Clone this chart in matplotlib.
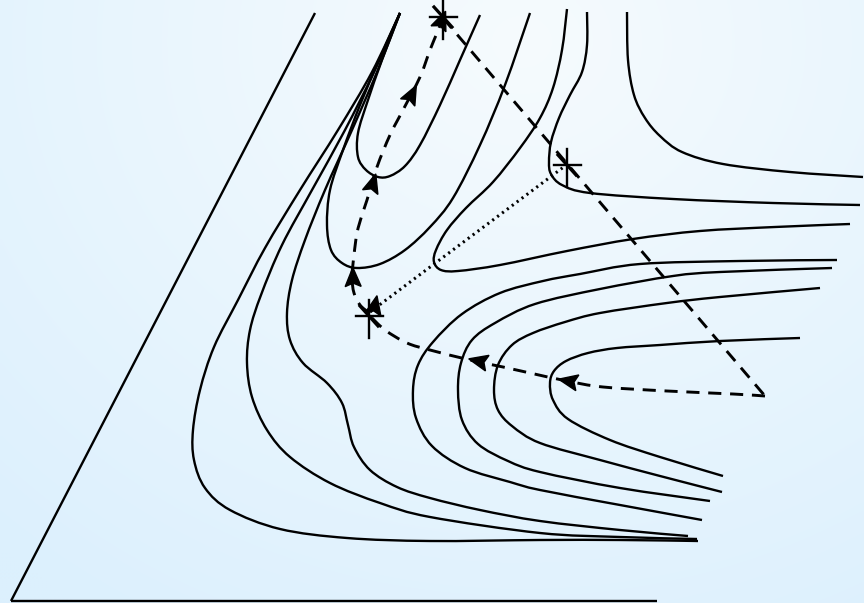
import numpy as np
import matplotlib
matplotlib.use("Agg")
import matplotlib.pyplot as plt
from matplotlib.path import Path
from matplotlib.patches import PathPatch, Polygon

# ---- diagram geometry (pixel-like units, y grows downward) ----
triangle_left = [(11, 601), (315, 13)]
triangle_bottom = [(11, 601), (657, 601)]

curve_A = [(400, 13), (372, 72), (338, 130), (300, 190), (265, 248), (238, 300), (214, 347),
           (200, 390), (193, 430), (194, 460), (205, 488), (230, 510), (280, 529), (347, 538),
           (430, 541), (540, 540), (620, 540), (698, 541)]
curve_B = [(400, 13), (374, 72), (345, 130), (312, 190), (282, 245), (261, 295), (250, 330),
           (247, 363), (252, 397), (267, 430), (290, 457), (330, 483), (380, 503), (430, 517),
           (540, 533), (620, 537), (697, 539)]
curve_C = [(400, 13), (377, 72), (352, 130), (325, 190), (305, 240), (292, 280), (287, 313),
           (290, 340), (303, 363), (327, 383), (342, 403), (348, 425), (354, 447), (370, 470),
           (397, 487), (430, 498), (480, 510), (540, 521), (620, 530), (688, 536)]
curve_H1 = [(400, 13), (382, 60), (368, 100), (358, 133), (358, 157), (366, 170), (378, 177),
            (390, 176), (405, 166), (420, 145), (440, 105), (460, 60), (480, 15)]
curve_H2 = [(400, 13), (380, 58), (360, 105), (343, 150), (330, 190), (327, 225), (331, 250),
            (342, 263), (357, 268), (380, 264), (405, 250), (430, 227), (453, 198), (480, 145),
            (505, 85), (530, 13)]
curve_H3 = [(567, 9), (562, 50), (553, 88), (540, 118), (520, 148), (493, 182), (466, 208),
            (447, 230), (436, 250), (434, 262), (441, 270), (458, 271), (500, 265), (567, 251),
            (633, 239), (700, 231), (775, 227), (850, 224)]
curve_F = [(587, 12), (587, 45), (582, 72), (570, 95), (559, 118), (551, 142), (549, 162),
           (551, 174), (562, 185), (590, 193), (673, 199), (773, 203), (860, 205)]
curve_G = [(627, 12), (628, 60), (634, 95), (645, 118), (660, 136), (682, 152), (723, 164),
           (790, 172), (863, 177)]
curve_U1 = [(837, 260), (740, 261), (640, 264), (580, 274), (543, 281), (500, 293), (462, 314),
            (433, 342), (418, 365), (413, 390), (416, 418), (432, 446), (465, 468), (510, 482),
            (540, 490), (620, 505), (702, 520)]
curve_U2 = [(832, 268), (720, 272), (673, 276), (600, 289), (535, 304), (495, 323), (472, 340),
            (461, 363), (458, 390), (462, 420), (478, 444), (508, 461), (540, 472), (620, 488),
            (710, 501)]
curve_U3 = [(820, 288), (720, 297), (667, 303), (600, 313), (565, 322), (533, 333), (512, 345),
            (498, 365), (494, 390), (498, 410), (512, 426), (540, 443), (600, 460), (660, 476),
            (722, 492)]
curve_U4 = [(800, 338), (720, 341), (660, 345), (617, 348), (588, 353), (566, 361), (554, 371),
            (550, 383), (553, 400), (568, 419), (610, 440), (660, 457), (723, 476)]

solid_curves = [curve_A, curve_B, curve_C, curve_H1, curve_H2, curve_H3, curve_F, curve_G,
                curve_U1, curve_U2, curve_U3, curve_U4]

# dashed paths
dash_bottom = [(765, 396), (733, 394), (667, 391), (603, 387), (567, 381), (530, 373),
               (503, 367), (470, 360), (430, 350), (407, 343), (385, 330), (370, 316)]
dash_up = [(368, 312), (360, 305), (354, 293), (352, 277), (354, 255), (357, 233), (362, 215),
           (367, 200), (377, 167), (390, 135), (403, 110), (420, 77), (430, 50), (437, 33),
           (443, 18)]
dash_straight = [(443, 18), (765, 396)]
dotted_line = [(370, 312), (565, 166)]

# arrowheads: position and heading (degrees, y downward)
arrow_x = [568, 478, 353, 373, 412, 442, 375]
arrow_y = [381, 361, 277, 183, 94, 20, 305]
arrow_heading = [-169, -167, -91, -73, -63, -68, -78]

# singular points drawn as asterisks
star_x = [443, 567, 369]
star_y = [17, 165, 316]


def smooth_path(pts):
    """Catmull-Rom control polygon turned into cubic Bezier segments."""
    p = np.asarray(pts, float)
    verts = [p[0]]
    codes = [Path.MOVETO]
    n = len(p)
    for i in range(n - 1):
        p0 = p[i - 1] if i > 0 else p[i]
        p1 = p[i]
        p2 = p[i + 1]
        p3 = p[i + 2] if i + 2 < n else p[i + 1]
        c1 = p1 + (p2 - p0) / 6.0
        c2 = p2 - (p3 - p1) / 6.0
        verts += [c1, c2, p2]
        codes += [Path.CURVE4] * 3
    return Path(verts, codes)


def draw_curve(ax, pts, **kw):
    ax.add_patch(PathPatch(smooth_path(pts), fill=False, capstyle="butt", joinstyle="round", **kw))


def arrowhead(ax, x, y, heading, length=19, width=16):
    a = np.deg2rad(heading)
    d = np.array([np.cos(a), np.sin(a)])
    n = np.array([-d[1], d[0]])
    c = np.array([x, y], float)
    tip = c + d * length * 0.5
    back = c - d * length * 0.5
    notch = c - d * length * 0.32
    poly = [tip, back + n * width / 2, notch, back - n * width / 2]
    ax.add_patch(Polygon(poly, closed=True, facecolor="black", edgecolor="black", lw=1.0, zorder=5))


fig = plt.figure(figsize=(8.64, 6.03), dpi=100)
ax = fig.add_axes([0, 0, 1, 1])
ax.set_xlim(0, 864)
ax.set_ylim(603, 0)
ax.axis("off")

# soft blue background
yy, xx = np.mgrid[0:603:4, 0:864:4]
dist = np.hypot((xx - 520) / 1.0, (yy - 40) * 1.15) / 780.0
dist = np.clip(dist, 0, 1)
c_light = np.array([0xf6, 0xfb, 0xfe]) / 255.0
c_dark = np.array([0xdc, 0xf0, 0xfd]) / 255.0
img = c_light[None, None, :] * (1 - dist[..., None]) + c_dark[None, None, :] * dist[..., None]
ax.imshow(img, extent=(0, 864, 603, 0), interpolation="bilinear", zorder=0, aspect="auto")

# triangle edges
for seg in (triangle_left, triangle_bottom):
    xs, ys = zip(*seg)
    ax.plot(xs, ys, color="black", lw=1.7, solid_capstyle="butt", zorder=2)

# solid curves
for c in solid_curves:
    draw_curve(ax, c, edgecolor="black", lw=1.7, zorder=3)

# dashed paths
for c in (dash_bottom, dash_up):
    draw_curve(ax, c, edgecolor="black", lw=2.1, linestyle=(0, (4.5, 3.0)), zorder=4)
xs, ys = zip(*dash_straight)
ax.plot(xs, ys, color="black", lw=2.1, linestyle=(0, (4.5, 3.0)), zorder=4)

# dotted line
xs, ys = zip(*dotted_line)
ax.plot(xs, ys, color="black", lw=2.2, linestyle=(0, (0.7, 1.3)), zorder=4)

# arrowheads
for x, y, h in zip(arrow_x, arrow_y, arrow_heading):
    arrowhead(ax, x, y, h)

# asterisks
for x, y in zip(star_x, star_y):
    ax.plot([x - 13, x + 14], [y, y], color="black", lw=1.7, zorder=6)
    ax.plot([x, x], [y - 16, y + 22], color="black", lw=1.7, zorder=6)
    ax.plot([x - 9, x + 9], [y - 10, y + 10], color="black", lw=2.3, zorder=6)

fig.savefig("out.png", dpi=100)
